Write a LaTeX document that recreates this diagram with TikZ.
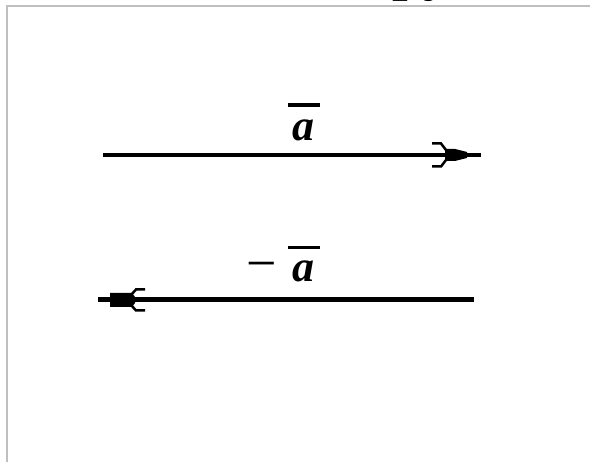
\documentclass[tikz,border=0pt]{standalone}
\usepackage{fontspec}
\setmainfont{Liberation Serif}
\begin{document}
\begin{tikzpicture}[x=1pt,y=-1pt,
  vec/.style={line width=4.5pt},
  headfill/.style={fill=black,draw=none},
  barb/.style={line width=2.5pt,line join=miter},
  lbl/.style={font=\fontsize{44}{44}\selectfont\bfseries\itshape,inner sep=0pt},
  frame/.style={draw=black!25,line width=1.3pt}]
\useasboundingbox (0,0) rectangle (590,462);
\begin{scope}
\clip (0,0) rectangle (590,462);
\node[font=\fontsize{56}{56}\selectfont\bfseries,anchor=base west,inner sep=0pt] (ttl) at (392,-10) {py};
\end{scope}
\draw[frame] (7,462) -- (7,6) -- (590,6);
% top vector
\coordinate (a1) at (103,155);
\coordinate (a2) at (481,155);
\draw[vec] (a1) -- (a2);
\fill[headfill] ([shift={(-36,-6)}]a2) -- ([shift={(-26,-6)}]a2) -- ([shift={(-14,-3)}]a2) -- ([shift={(-14,3)}]a2) -- ([shift={(-26,6)}]a2) -- ([shift={(-36,6)}]a2) -- cycle;
\draw[barb] ([shift={(-49,-11.5)}]a2) -- ([shift={(-40,-11.5)}]a2) -- ([shift={(-35,-5)}]a2);
\draw[barb] ([shift={(-49,11.5)}]a2) -- ([shift={(-40,11.5)}]a2) -- ([shift={(-35,5)}]a2);
\node[lbl] (la) at (303,130) {a};
\draw[line width=4pt] (288,105) -- (320,105);
% bottom vector
\coordinate (b1) at (474,300);
\coordinate (b2) at (98,300);
\draw[vec,line width=5pt] (b1) -- (b2);
\fill[headfill] ([shift={(12,-7)}]b2) -- ([shift={(34,-7)}]b2) -- ([shift={(37,-3)}]b2) -- ([shift={(37,3)}]b2) -- ([shift={(34,7)}]b2) -- ([shift={(12,7)}]b2) -- cycle;
\draw[barb] ([shift={(47,-10.5)}]b2) -- ([shift={(38,-10.5)}]b2) -- ([shift={(33,-5)}]b2);
\draw[barb] ([shift={(47,10.5)}]b2) -- ([shift={(38,10.5)}]b2) -- ([shift={(33,5)}]b2);
\node[font=\fontsize{54}{54}\selectfont,inner sep=0pt] (mn) at (262,272) {−};
\node[lbl] (lb) at (303,271) {a};
\draw[line width=3pt] (288,248) -- (320,248);
\end{tikzpicture}
\end{document}
